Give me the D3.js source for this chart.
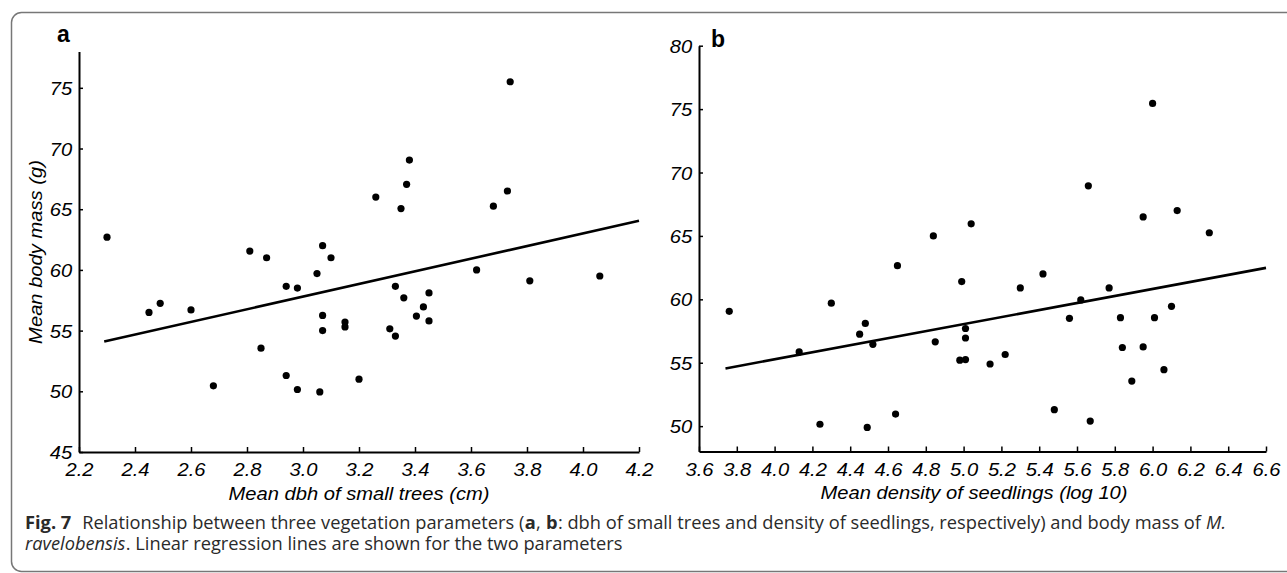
<!DOCTYPE html>
<html>
  <head>
    <meta charset="utf-8">
    <title>Body mass vs vegetation parameters</title>
    <style>
      body { margin: 0; background: #fff; }
      .tick line { stroke: #000; stroke-width: 1.5; }
      .domain { stroke: #000; stroke-width: 2; }
    </style>
  </head>
  <body>
    <script src="https://cdnjs.cloudflare.com/ajax/libs/d3/7.8.5/d3.min.js"></script>
    <script>
      // panel a: mean dbh of small trees (cm) vs mean body mass (g)
      var aDbh  = [2.30, 2.45, 2.49, 2.60, 2.68, 2.81, 2.85, 2.87, 2.94, 2.94,
                   2.98, 2.98, 3.05, 3.06, 3.07, 3.07, 3.07, 3.10, 3.15, 3.15,
                   3.20, 3.26, 3.31, 3.33, 3.33, 3.35, 3.36, 3.37, 3.38, 3.405,
                   3.43, 3.45, 3.45, 3.62, 3.68, 3.73, 3.74, 3.81, 4.06];
      var aMass = [62.7, 56.5, 57.25, 56.7, 50.45, 61.55, 53.55, 61.0, 58.65, 51.3,
                   58.5, 50.15, 59.7, 49.95, 62.0, 56.25, 55.0, 61.0, 55.7, 55.3,
                   51.0, 66.0, 55.15, 58.65, 54.55, 65.05, 57.7, 67.05, 69.05, 56.2,
                   56.95, 58.1, 55.8, 60.0, 65.25, 66.5, 75.5, 59.1, 59.5];
      var aLineX = [2.29, 4.2];
      var aLineY = [54.1, 64.05];

      // panel b: mean density of seedlings (log 10) vs mean body mass (g)
      var bDensity = [3.76, 4.13, 4.24, 4.30, 4.45, 4.48, 4.49, 4.52, 4.64, 4.65,
                      4.84, 4.85, 4.98, 4.99, 5.01, 5.01, 5.01, 5.04, 5.14, 5.22,
                      5.30, 5.42, 5.48, 5.56, 5.62, 5.66, 5.67, 5.77, 5.83, 5.84,
                      5.89, 5.95, 5.95, 6.00, 6.01, 6.06, 6.10, 6.13, 6.30];
      var bMass = [59.05, 55.85, 50.15, 59.7, 57.25, 58.1, 49.9, 56.45, 50.95, 62.65,
                   65.0, 56.65, 55.2, 61.4, 57.7, 56.95, 55.25, 65.95, 54.9, 55.65,
                   60.9, 62.0, 51.3, 58.5, 59.95, 68.95, 50.4, 60.9, 58.55, 56.2,
                   53.55, 66.5, 56.25, 75.45, 58.55, 54.45, 59.45, 67.0, 65.25];
      var bLineX = [3.74, 6.6];
      var bLineY = [54.55, 62.48];

      var aXTicks = [2.2, 2.4, 2.6, 2.8, 3.0, 3.2, 3.4, 3.6, 3.8, 4.0, 4.2];
      var aYTicks = [45, 50, 55, 60, 65, 70, 75];
      var bXTicks = [3.6, 3.8, 4.0, 4.2, 4.4, 4.6, 4.8, 5.0, 5.2, 5.4, 5.6, 5.8, 6.0, 6.2, 6.4, 6.6];
      var bYTicks = [50, 55, 60, 65, 70, 75, 80];

      // caption pieces: [text, weight, style]
      var caption1 = [['Fig. 7', 'bold', 'normal'],
                      ['Relationship between three vegetation parameters (', 'normal', 'normal'],
                      ['a', 'bold', 'normal'], [',', 'normal', 'normal'],
                      ['b', 'bold', 'normal'],
                      [': dbh of small trees and density of seedlings, respectively) and body mass of', 'normal', 'normal'],
                      ['M.', 'normal', 'italic']];
      var caption2 = [['ravelobensis', 'normal', 'italic'],
                      ['. Linear regression lines are shown for the two parameters', 'normal', 'normal']];

      var W = 1287, H = 573;
      var FONT = "'Liberation Sans', Arial, sans-serif";
      var SX = 1.12; // the original lettering is wider than Arial

      var svg = d3.select('body').append('svg').attr('width', W).attr('height', H);

      // rounded frame of the figure box
      svg.append('rect')
        .attr('x', 11.5).attr('y', 12.5).attr('width', 1310).attr('height', 559)
        .attr('rx', 10).attr('fill', 'none')
        .attr('stroke', '#777').attr('stroke-width', 1.5);

      function panel(opt) {
        var x = d3.scaleLinear().domain(opt.xDomain).range(opt.xRange);
        var y = d3.scaleLinear().domain(opt.yDomain).range(opt.yRange);
        var g = svg.append('g');

        var xAxis = g.append('g')
          .attr('transform', 'translate(0,' + opt.yRange[0] + ')')
          .call(d3.axisBottom(x).tickValues(opt.xTicks).tickFormat(d3.format('.1f'))
            .tickSizeInner(-5).tickSizeOuter(0));
        xAxis.selectAll('text')
          .attr('y', 24.5).attr('dy', 0)
          .attr('transform', 'scale(' + SX + ',1)');

        var yAxis = g.append('g')
          .attr('transform', 'translate(' + opt.xRange[0] + ',0)')
          .call(d3.axisLeft(y).tickValues(opt.yTicks)
            .tickSizeInner(-4).tickSizeOuter(0).tickPadding(6));
        yAxis.selectAll('text')
          .attr('dy', '0.36em')
          .attr('transform', 'scale(' + SX + ',1)');

        [xAxis, yAxis].forEach(function(ax) {
          ax.selectAll('text')
            .attr('fill', '#000')
            .style('font-family', FONT)
            .style('font-style', 'italic')
            .style('font-size', '18px');
        });

        // regression line
        g.append('line')
          .attr('x1', x(opt.lineX[0])).attr('y1', y(opt.lineY[0]))
          .attr('x2', x(opt.lineX[1])).attr('y2', y(opt.lineY[1]))
          .attr('stroke', '#000').attr('stroke-width', 2.6);

        g.selectAll('circle.pt').data(opt.xs)
          .enter().append('circle')
          .attr('class', 'pt')
          .attr('cx', function(d) { return x(d); })
          .attr('cy', function(d, i) { return y(opt.ys[i]); })
          .attr('r', 3.6)
          .attr('fill', '#000');

        // x title
        g.append('text')
          .attr('transform', 'translate(' + opt.xTitlePos[0] + ',' + opt.xTitlePos[1] + ') scale(' + SX + ',1)')
          .attr('text-anchor', 'middle')
          .style('font-family', FONT).style('font-style', 'italic').style('font-size', '18px')
          .text(opt.xTitle);

        // panel letter
        g.append('text')
          .attr('x', opt.letterPos[0]).attr('y', opt.letterPos[1])
          .style('font-family', FONT).style('font-weight', 'bold').style('font-size', '23px')
          .text(opt.letter);
        return g;
      }

      panel({
        xDomain: [2.2, 4.2], xRange: [79, 639],
        yDomain: [45, 78], yRange: [452, 51.4],
        xTicks: aXTicks, yTicks: aYTicks,
        xs: aDbh, ys: aMass, lineX: aLineX, lineY: aLineY,
        xTitle: 'Mean dbh of small trees (cm)', xTitlePos: [359, 500],
        letter: 'a', letterPos: [57, 41.5]
      });

      panel({
        xDomain: [3.6, 6.6], xRange: [699, 1266],
        yDomain: [48, 80], yRange: [451.5, 45.7],
        xTicks: bXTicks, yTicks: bYTicks,
        xs: bDensity, ys: bMass, lineX: bLineX, lineY: bLineY,
        xTitle: 'Mean density of seedlings (log 10)', xTitlePos: [974, 499],
        letter: 'b', letterPos: [711, 46.5]
      });

      // y title (only on panel a)
      svg.append('text')
        .attr('transform', 'translate(41.5,252) rotate(-90) scale(' + SX + ',1)')
        .attr('text-anchor', 'middle')
        .style('font-family', FONT).style('font-style', 'italic').style('font-size', '18px')
        .text('Mean body mass (g)');

      // caption: each piece is its own text, laid out left to right
      var CAP = "'Open Sans', 'Noto Sans', sans-serif";
      // gaps after each piece, in em (word space where the text had one)
      var gaps1 = [0.6, 0.02, 0.02, 0.28, 0.02, 0.28, 0];
      var gaps2 = [0.02, 0];

      function layLine(pieces, gaps, y, fs) {
        var sel = svg.append('g').attr('class', 'cap');
        var cx = 25;
        pieces.forEach(function(p, i) {
          var t = sel.append('text')
            .attr('x', cx).attr('y', y)
            .attr('fill', '#2a2a2a')
            .style('font-family', CAP).style('font-size', fs + 'px')
            .style('font-weight', p[1]).style('font-style', p[2])
            .text(p[0]);
          cx += t.node().getComputedTextLength() + gaps[i] * fs;
        });
        return { g: sel, end: cx };
      }

      var probe = layLine(caption1, gaps1, 529, 14);
      var fs = 14 * (1227 - 25) / (probe.end - 25);
      probe.g.remove();
      layLine(caption1, gaps1, 529, fs);
      layLine(caption2, gaps2, 550, fs);
    </script>
  </body>
</html>
